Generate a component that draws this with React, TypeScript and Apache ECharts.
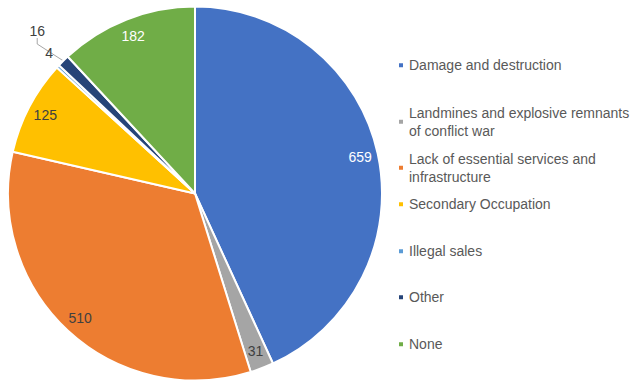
import React, { useEffect, useRef } from "react";
import * as echarts from "echarts";

const categories = [
  "Damage and destruction",
  "Landmines and explosive remnants of conflict war",
  "Lack of essential services and infrastructure",
  "Secondary Occupation",
  "Illegal sales",
  "Other",
  "None",
];
const legendTexts = [
  "Damage and destruction",
  "Landmines and explosive remnants\nof conflict war",
  "Lack of essential services and\ninfrastructure",
  "Secondary Occupation",
  "Illegal sales",
  "Other",
  "None",
];
const values = [659, 31, 510, 125, 4, 16, 182];
const colors = ["#4472C4", "#A5A5A5", "#ED7D31", "#FFC000", "#5B9BD5", "#264478", "#70AD47"];
const labelColors = ["#ffffff", "#404040", "#404040", "#404040", "#404040", "#404040", "#ffffff"];
const smallSlices = [false, false, false, false, true, true, false];

// layout (not data)
const legendTops = [56, 94, 140, 195, 242, 288, 335];
const LINE_H = 18.5;
const FONT = "'Liberation Sans', Arial, sans-serif";
const CENTER: [number, number] = [195, 193.5];
const R = 187;
const smallLabelPos: Record<number, { x: number; y: number }> = {
  4: { x: 53, y: 53 },
  5: { x: 45, y: 31 },
};

export default function App() {
  const ref = useRef<HTMLDivElement>(null);
  useEffect(() => {
    document.body.style.margin = "0";
    const chart = echarts.init(ref.current!, null, { renderer: "svg" });

    const legends = categories.map((name, i) => {
      const multi = legendTexts[i].includes("\n");
      return {
        orient: "vertical",
        left: 397,
        top: legendTops[i],
        padding: 0,
        itemWidth: 6,
        itemHeight: 6,
        icon: "rect",
        selectedMode: false,
        formatter: () => legendTexts[i],
        data: [
          {
            name,
            textStyle: multi ? { padding: [LINE_H, 0, 0, 0] } : {},
          },
        ],
        textStyle: {
          color: "#595959",
          fontSize: 14,
          fontFamily: FONT,
          lineHeight: LINE_H,
        },
      };
    });

    const mainData = categories.map((name, i) => ({
      name,
      value: values[i],
      itemStyle: { color: colors[i] },
      label: smallSlices[i]
        ? { show: true, position: "outside" }
        : { show: false },
      labelLine:
        i === 4
          ? { show: false, length: 10, length2: 2 }
          : i === 5
          ? { show: true, length: 20, length2: 6 }
          : { show: false },
    }));

    const overlayData = categories.map((name, i) => ({
      name,
      value: values[i],
      label: {
        show: !smallSlices[i],
        color: labelColors[i],
      },
    }));

    chart.setOption({
      animation: false,
      legend: legends,
      series: [
        {
          type: "pie",
          center: CENTER,
          radius: [0, R],
          startAngle: 90,
          clockwise: true,
          avoidLabelOverlap: true,
          itemStyle: { borderColor: "#ffffff", borderWidth: 2 },
          label: {
            formatter: "{c}",
            color: "#404040",
            fontSize: 14,
            fontFamily: FONT,
          },
          labelLine: { lineStyle: { color: "#A6A6A6", width: 1 } },
          labelLayout: (params: any) => {
            const p = smallLabelPos[params.dataIndex];
            if (!p) return {};
            return { x: p.x, y: p.y, align: "right", verticalAlign: "middle" };
          },
          emphasis: { disabled: true },
          data: mainData,
        },
        {
          type: "pie",
          center: CENTER,
          radius: [147, 185],
          startAngle: 90,
          clockwise: true,
          silent: true,
          itemStyle: { color: "rgba(0,0,0,0)", borderWidth: 0 },
          label: {
            position: "inside",
            formatter: "{c}",
            fontSize: 14,
            fontFamily: FONT,
          },
          labelLine: { show: false },
          emphasis: { disabled: true },
          data: overlayData,
        },
      ],
    });
    return () => chart.dispose();
  }, []);
  return <div ref={ref} style={{ width: 633, height: 381 }} />;
}
